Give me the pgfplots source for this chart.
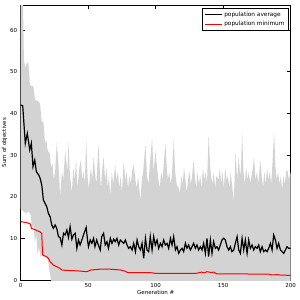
\documentclass[border=0pt]{standalone}
\usepackage{fontspec}
\setmainfont{DejaVu Sans}
\usepackage{pgfplots}
\pgfplotsset{compat=1.18}
\usepgfplotslibrary{fillbetween}
\definecolor{bandgray}{RGB}{211,211,211}
\begin{document}
\begin{tikzpicture}
\begin{axis}[
  scale only axis, width=270pt, height=275pt,
  xmin=0, xmax=200, ymin=0, ymax=66,
  xtick={0,50,100,150,200}, ytick={0,10,20,30,40,50,60},
  tick align=inside, major tick length=4pt,
  axis line style={black, line width=0.6pt},
  every tick/.style={black, line width=0.5pt},
  /pgf/number format/assume math mode=true,
  tick label style={font=\fontsize{5.5}{6}\selectfont},
  label style={font=\fontsize{5.5}{6}\selectfont},
  xlabel={Generation \#}, ylabel={Sum of objectives},
  xlabel style={yshift=4pt}, ylabel style={yshift=-4pt},
  legend style={at={(1,1)}, anchor=north east, xshift=-2pt, yshift=-3pt,
    font=\fontsize{5.8}{6.5}\selectfont,
    inner xsep=2pt, inner ysep=1.5pt, row sep=-0.5pt},
  legend cell align=left,
]
\addplot[name path=up, draw=none, forget plot] table {
0 70
1.5 70
2.4 52.8
3.2 51
4.1 51.6
5.6 52.4
6.9 46.6
8.2 46.7
9.4 46.4
10.6 43.2
12.6 43
14.3 42.4
15.6 38
16.8 38
18 32.8
19 33.6
20 31
21.5 30.4
22.5 27
23.5 28
24.5 24
25.5 26
26.7 33
27.7 29
28.5 25
29.2 20
30.5 26
31.5 24
33 31
34.6 26
35.4 33
36.5 25
37.9 21
39 27
40 24
41 29
42 22
43.5 27
44.5 28.8
45.5 24
46.5 26
47.5 23
48.5 33.6
49.5 25
50.5 22
52 27
53 24
54 29.6
55 26
56 23
57.7 32.8
58.8 25
59.5 22
60.5 27
61.4 29.6
62.5 24
63.5 27
64.5 22
65.3 25
66.3 20
67.5 26
68.5 23
70 27.6
71 24
72 26
73 22
74 25
75 21
76.3 28.4
77.5 24
78.5 26
79.5 22
80.5 25
81.5 23
82.5 26
83.7 27.7
85 24
86 22
87 25
88.7 19
89.7 24
90.7 26
92.4 32.6
93.5 25
94.5 23
95.5 27
97.3 34
98.5 26
99.8 31
101 27
102 24
103 22
104 26
105 24
106 28
107.2 33
108.2 27
109 24
110 26
111 23
112 25
113.4 34
114.4 26
115.5 23
117 22
118 21
119 25
120 23
121 27
122 24
123 21
124 24
125 26
126 23
127 25
128 28.8
129 25
130 22
131 26
132 23
133 25
134 22
135 27
136 24
137 26
138 23
139.2 35
140.2 28
141 25
142 23
143 26
144 22
145 25
146.6 24
147.5 27
148.5 23
149.5 26
150.5 22
151.5 27
152.5 24
153.5 25
154.5 22
155.5 26
156.5 23
157.8 18.8
159.2 30.8
160.3 24
161.5 29.6
162.5 25
163.2 27
164 35.5
165 26
166 23
167 27
168 24
169 26
170 23.2
171 25
172 27
172.8 29.6
174 24
175 26
176 23
177.5 28.8
178.5 25
179.5 22
180.5 26
181.5 23
182.5 27
183.5 24
184.5 26
185.5 23
186.5 28
187.7 35.5
188.7 27
189.7 24
190.7 26
191.7 23
192.7 25
193.6 21.6
194.6 25
195.6 23
196.6 26
197.6 26.4
198.6 24
200 26
};
\addplot[name path=lo, draw=none, forget plot] table {
0 17
2 16.5
4 16
6 16.5
7.5 15.5
8.5 12
9.5 13.5
10.5 9
11.5 11
12.5 6
13.5 8
14.5 5.5
15.5 6.5
16.5 5.6
18 6
19.5 5.5
20.5 4
21.5 2
22.5 0
23.5 -3
25 -5
30 -8
200 -8
};
\addplot[bandgray, forget plot] fill between[of=up and lo];
\addplot[black, line width=1.2pt] table {
0 42
1.5 41.8
3.4 32.8
4.9 35.2
6.7 31.2
7.9 32.8
9.1 27.2
10.4 28.8
11.6 26
12.4 25.6
13.4 25.2
14.4 24.4
15.6 22.8
16.8 19.2
18 18.4
19.3 17.6
20.5 16
21.8 15.2
23 13.2
24.2 12.4
25.5 13.2
26.7 12.4
28 10.4
29.2 10.2
30.5 8.4
31.7 11.2
32.9 10.8
34.2 12
35.4 10.2
36.6 12.8
37.9 9.8
39 10.8
40.4 11.2
41.6 7.6
42.8 9.6
44 8.4
45.3 9.6
46.5 10.8
47.8 12
48.5 12.6
49.5 9.6
50.2 8
51.5 9.6
52.7 8.8
54 10
55 8
56.3 9.6
57.5 8.4
58.9 7.2
60 10.4
61.4 11.2
62.6 8.4
63.9 9.2
65 7.6
66.4 10
67.6 8.8
68.9 9.8
70 9.2
71.3 10
72.6 8.4
73.8 9.6
75 9.2
76.3 8.8
77.5 9.6
78.8 8.4
80 7.6
81.2 8
82.5 7.2
83.7 8.8
85 6.8
86.2 9.6
87.4 8
88.7 7.2
89.9 8.8
91.1 5.2
92.4 10
93.6 7.2
94.8 6.8
96 10.4
97.3 7.2
98.5 10.4
99.7 8.4
101 9.6
102.2 7.6
103.5 8.8
104.7 8
105.9 9.6
107.1 8.4
108.4 8.8
109.6 7.6
110.9 10
112.1 8.4
113.3 10.4
114.6 7.2
115.8 8
117 6.4
118.3 7.2
119.5 7.6
120.7 6.8
122 8.8
123.2 7.6
124.4 8.4
125.7 7.2
126.9 8
128.1 8.8
129.4 7.6
130.6 8.4
131.8 7.2
133.1 8
134.3 7.2
135.5 8.8
136.8 6.4
138 10
139.2 5.6
140.5 9.6
141.7 6.4
142.9 9.2
144.2 7.6
145.4 8
146.6 7.2
147.9 8.4
149.1 9.6
150.4 10
151.6 9.6
152.8 8
154.1 7.2
155.3 8
156.5 6.8
157.8 7.2
159 8.8
160.3 10.4
161.5 7.2
162.7 6.4
164 10
165.2 7.2
166.4 9.6
167.7 6.4
168.9 9.6
170.1 7.6
171.4 8.4
172.6 7.2
173.8 8
175.1 7.6
176.3 8.4
177.5 6.8
178.8 8
180 6.8
181.3 7.2
182.5 6.8
183.7 7.6
185 8.8
186.2 7.2
187.4 10.8
188.7 9.6
189.9 7.6
191.1 8.8
192.4 7.2
193.6 6.8
194.8 6.4
196.1 7.2
197.3 8
198.5 7.6
200 7.6
};
\addlegendentry{population average}
\addplot[red, line width=1pt] table {
0 14
4 13.8
7 13.5
8 12.4
11 12
14 11.6
15.6 11.2
16.2 6
19 5.6
20.5 5.2
21.8 4.4
23 4
24 3.6
26.7 3.2
29 2.8
30.5 2.4
34 2.3
41.6 2.2
49 2
52 2.4
59 2.6
66 2.6
74 2.4
77.5 2.1
79 1.8
95 1.8
100 1.6
130 1.6
134 1.9
136 1.7
138 2.0
141 1.8
143 1.9
145 1.5
184 1.4
186 1.2
190 1.3
192 1.2
200 1.1
};
\addlegendentry{population minimum}
\end{axis}
\pgfresetboundingbox
\path (current axis.south west) ++(-20.7pt,-20pt) rectangle ++(300pt,300pt);
\end{tikzpicture}
\end{document}
